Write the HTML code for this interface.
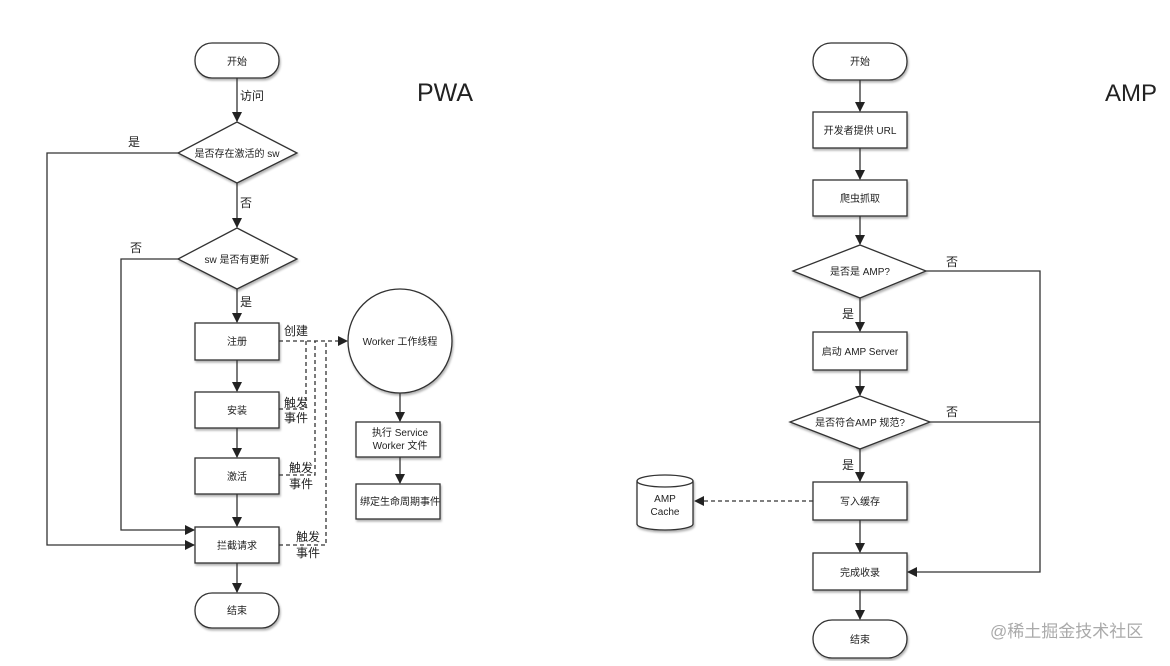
<!DOCTYPE html>
<html><head><meta charset="utf-8"><style>
body{margin:0;background:#fff;}
svg text{font-family:"Liberation Sans","Noto Sans CJK SC",sans-serif;fill:#222;}
</style></head><body>
<svg width="1170" height="661" viewBox="0 0 1170 661" xmlns="http://www.w3.org/2000/svg">
<defs>
<marker id="a" markerWidth="10" markerHeight="10" refX="9" refY="5" orient="auto" markerUnits="userSpaceOnUse"><path d="M0,0 L10,5 L0,10 z" fill="#222"/></marker>
<filter id="s"><feDropShadow dx="1" dy="2" stdDeviation="1" flood-opacity="0.3"/></filter>
</defs>
<g stroke="#333" stroke-width="1.3" fill="#fff" filter="url(#s)">
<rect x="195" y="43" width="84" height="35" rx="17"/>
<polygon points="237,122 297,153 237,183 178,153"/>
<polygon points="237,228 297,259 237,289 178,259"/>
<rect x="195" y="323" width="84" height="37"/>
<rect x="195" y="392" width="84" height="36"/>
<rect x="195" y="458" width="84" height="36"/>
<rect x="195" y="527" width="84" height="36"/>
<rect x="195" y="593" width="84" height="35" rx="17"/>
<circle cx="400" cy="341" r="52"/>
<rect x="356" y="422" width="84" height="35"/>
<rect x="356" y="484" width="84" height="35"/>
<rect x="813" y="43" width="94" height="37" rx="18"/>
<rect x="813" y="112" width="94" height="36"/>
<rect x="813" y="180" width="94" height="36"/>
<polygon points="860,245 926,271 860,298 793,271"/>
<rect x="813" y="332" width="94" height="38"/>
<polygon points="860,396 930,422 860,449 790,422"/>
<rect x="813" y="482" width="94" height="38"/>
<rect x="813" y="553" width="94" height="37"/>
<rect x="813" y="620" width="94" height="38" rx="19"/>
<path d="M637,481 v43 a28,6 0 0 0 56,0 v-43 a28,6 0 0 0 -56,0 a28,6 0 0 0 56,0"/>
</g>
<g stroke="#333" stroke-width="1.3" fill="none">
<line x1="237" y1="78" x2="237" y2="121" marker-end="url(#a)"/>
<line x1="237" y1="183" x2="237" y2="227" marker-end="url(#a)"/>
<line x1="237" y1="289" x2="237" y2="322" marker-end="url(#a)"/>
<line x1="237" y1="360" x2="237" y2="391" marker-end="url(#a)"/>
<line x1="237" y1="428" x2="237" y2="457" marker-end="url(#a)"/>
<line x1="237" y1="494" x2="237" y2="526" marker-end="url(#a)"/>
<line x1="237" y1="563" x2="237" y2="592" marker-end="url(#a)"/>
<polyline points="178,153 47,153 47,545 194,545" marker-end="url(#a)"/>
<polyline points="178,259 121,259 121,530 194,530" marker-end="url(#a)"/>
<line x1="400" y1="393" x2="400" y2="421" marker-end="url(#a)"/>
<line x1="400" y1="457" x2="400" y2="483" marker-end="url(#a)"/>
<g stroke-dasharray="4,3">
<line x1="279" y1="341" x2="347" y2="341" marker-end="url(#a)"/>
<polyline points="279,409 306,409 306,341"/>
<polyline points="279,475 315,475 315,341"/>
<polyline points="279,545 326,545 326,341"/>
<line x1="813" y1="501" x2="695" y2="501" marker-end="url(#a)"/>
</g>
<line x1="860" y1="80" x2="860" y2="111" marker-end="url(#a)"/>
<line x1="860" y1="148" x2="860" y2="179" marker-end="url(#a)"/>
<line x1="860" y1="216" x2="860" y2="244" marker-end="url(#a)"/>
<line x1="860" y1="298" x2="860" y2="331" marker-end="url(#a)"/>
<line x1="860" y1="370" x2="860" y2="395" marker-end="url(#a)"/>
<line x1="860" y1="449" x2="860" y2="481" marker-end="url(#a)"/>
<line x1="860" y1="520" x2="860" y2="552" marker-end="url(#a)"/>
<line x1="860" y1="590" x2="860" y2="619" marker-end="url(#a)"/>
<polyline points="926,271 1040,271 1040,572 908,572" marker-end="url(#a)"/>
<line x1="930" y1="422" x2="1040" y2="422"/>
</g>
<g font-size="10" text-anchor="middle">
<text x="237" y="65">开始</text>
<text x="237" y="157">是否存在激活的 sw</text>
<text x="237" y="263">sw 是否有更新</text>
<text x="237" y="345">注册</text>
<text x="237" y="414">安装</text>
<text x="237" y="480">激活</text>
<text x="237" y="549">拦截请求</text>
<text x="237" y="614">结束</text>
<text x="400" y="345">Worker 工作线程</text>
<text x="400" y="436">执行 Service</text>
<text x="400" y="449">Worker 文件</text>
<text x="400" y="505">绑定生命周期事件</text>
<text x="860" y="65">开始</text>
<text x="860" y="134">开发者提供 URL</text>
<text x="860" y="202">爬虫抓取</text>
<text x="860" y="275">是否是 AMP?</text>
<text x="860" y="355">启动 AMP Server</text>
<text x="860" y="426">是否符合AMP 规范?</text>
<text x="860" y="505">写入缓存</text>
<text x="860" y="576">完成收录</text>
<text x="860" y="643">结束</text>
<text x="665" y="502">AMP</text>
<text x="665" y="515">Cache</text>
</g>
<g font-size="12">
<text x="240" y="100">访问</text>
<text x="128" y="146">是</text>
<text x="240" y="207">否</text>
<text x="130" y="252">否</text>
<text x="240" y="306">是</text>
<text x="284" y="335">创建</text>
<text x="284" y="407">触发</text><text x="284" y="422">事件</text>
<text x="289" y="472">触发</text><text x="289" y="488">事件</text>
<text x="296" y="541">触发</text><text x="296" y="557">事件</text>
<text x="946" y="266">否</text>
<text x="946" y="416">否</text>
<text x="842" y="318">是</text>
<text x="842" y="469">是</text>
</g>
<text x="417" y="101" font-size="25" style="fill:#222">PWA</text>
<text x="1105" y="101" font-size="24" style="fill:#222">AMP</text>
<text x="990" y="637" font-size="17" style="fill:#aaa">@稀土掘金技术社区</text>
</svg>
</body></html>
